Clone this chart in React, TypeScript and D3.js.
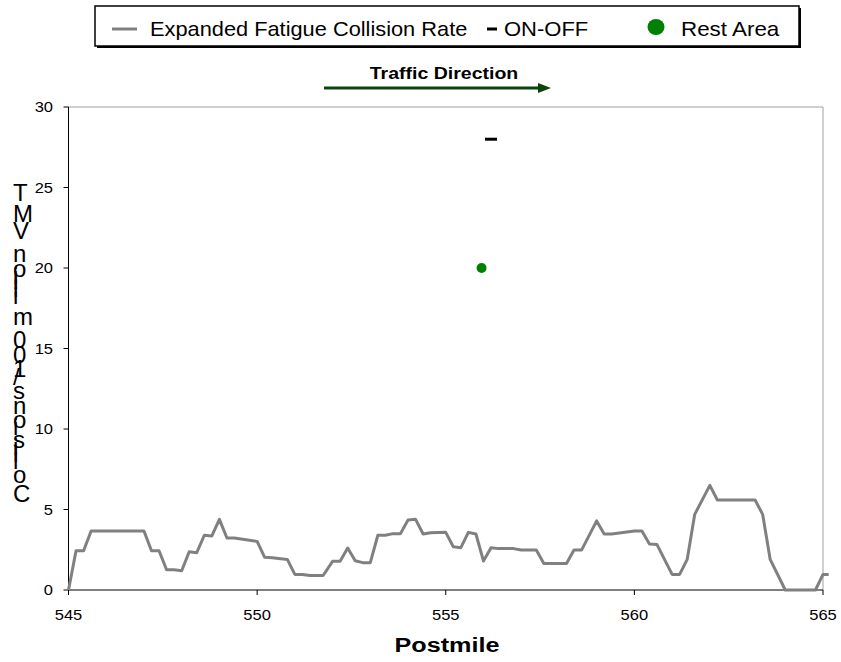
import React from "react";
import * as d3 from "d3";

const postmiles = [545, 545.2, 545.4, 545.6, 547.0, 547.2, 547.4, 547.6, 547.8, 548.0, 548.2, 548.4, 548.6, 548.8, 549.0, 549.2, 549.4, 550.0, 550.2, 550.4, 550.8, 551.0, 551.2, 551.4, 551.75, 552.0, 552.2, 552.4, 552.6, 552.8, 553.0, 553.2, 553.4, 553.6, 553.8, 554.0, 554.2, 554.4, 554.6, 555.0, 555.2, 555.4, 555.6, 555.8, 556.0, 556.2, 556.4, 556.8, 557.0, 557.4, 557.6, 558.2, 558.4, 558.6, 559.0, 559.2, 559.4, 560.0, 560.2, 560.4, 560.6, 561.0, 561.2, 561.4, 561.6, 562.0, 562.2, 563.2, 563.4, 563.6, 564.0, 564.8, 565.0, 565.15];
const rates = [0, 2.44, 2.44, 3.66, 3.66, 2.44, 2.44, 1.26, 1.26, 1.2, 2.38, 2.32, 3.4, 3.36, 4.39, 3.23, 3.23, 3.02, 2.03, 2.0, 1.9, 0.97, 0.96, 0.9, 0.9, 1.78, 1.78, 2.61, 1.82, 1.7, 1.7, 3.4, 3.4, 3.5, 3.5, 4.35, 4.39, 3.48, 3.56, 3.58, 2.69, 2.63, 3.58, 3.48, 1.8, 2.63, 2.57, 2.57, 2.48, 2.48, 1.64, 1.64, 2.48, 2.48, 4.29, 3.48, 3.48, 3.66, 3.66, 2.86, 2.82, 0.97, 0.97, 1.9, 4.7, 6.5, 5.59, 5.59, 4.7, 1.9, 0, 0, 0.97, 0.97];

const onOffPostmiles = [556.2];
const onOffValues = [28];
const restAreaPostmiles = [555.95];
const restAreaValues = [20];

const xTicks = [545, 550, 555, 560, 565];
const yTicks = [0, 5, 10, 15, 20, 25, 30];

const seriesNames = ["Expanded Fatigue Collision Rate", "ON-OFF", "Rest Area"];
const yTitle = "Collisions/100 million VMT";
const xTitle = "Postmile";
const directionLabel = "Traffic Direction";

const FONT = "'Liberation Sans', Arial, Helvetica, sans-serif";

function SText({ x, y, sx = 1, size, anchor = "start", bold = false, children }: any) {
  return (
    <g transform={`translate(${x},${y}) scale(${sx},1)`}>
      <text
        x={0}
        y={0}
        fontFamily={FONT}
        fontSize={size}
        fontWeight={bold ? "bold" : "normal"}
        textAnchor={anchor}
        fill="#000"
      >
        {children}
      </text>
    </g>
  );
}

export default function App() {
  const W = 841;
  const H = 662;
  const x = d3.scaleLinear().domain([545, 565]).range([68.5, 823]);
  const y = d3.scaleLinear().domain([0, 30]).range([590, 107]);

  const line = d3
    .line<number>()
    .x((_, i) => x(postmiles[i]))
    .y((d) => y(d));

  const x0 = x(545);
  const x1 = x(565);
  const y0 = y(0);
  const y1 = y(30);

  return (
    <svg
      width={W}
      height={H}
      viewBox={`0 0 ${W} ${H}`}
      style={{ position: "absolute", left: 0, top: 0, background: "#fff" }}
    >
      <rect x={0} y={0} width={W} height={H} fill="#fff" />

      {/* Legend */}
      <rect x={97} y={8} width={704} height={40} fill="#000" />
      <rect x={95} y={6} width={704} height={40} fill="#fff" stroke="#000" strokeWidth={1.5} />
      <line x1={112} x2={137} y1={29} y2={29} stroke="#808080" strokeWidth={3} />
      <SText x={150} y={36} sx={1.09} size={20}>{seriesNames[0]}</SText>
      <line x1={487} x2={497} y1={29} y2={29} stroke="#000" strokeWidth={3} />
      <SText x={504} y={36} sx={1.1} size={20}>{seriesNames[1]}</SText>
      <ellipse cx={656} cy={27} rx={8.5} ry={8} fill="#008000" />
      <SText x={681} y={36} sx={1.12} size={20}>{seriesNames[2]}</SText>

      {/* Traffic direction */}
      <SText x={444} y={79} sx={1.22} size={16} anchor="middle" bold>
        {directionLabel}
      </SText>
      <line x1={324} x2={540} y1={88} y2={88} stroke="#0b450b" strokeWidth={3} />
      <path d="M 538 83 L 551 88 L 538 93 Z" fill="#0b450b" />

      {/* Plot frame (top/right gray) */}
      <line x1={x0} x2={x1} y1={y1} y2={y1} stroke="#a0a0a0" strokeWidth={1} />
      <line x1={x1} x2={x1} y1={y1} y2={y0} stroke="#a0a0a0" strokeWidth={1} />

      {/* Y axis */}
      <line x1={x0} x2={x0} y1={y1} y2={y0} stroke="#000" strokeWidth={1} />
      {yTicks.map((t) => (
        <g key={"y" + t}>
          <line x1={x0 - 5} x2={x0} y1={y(t)} y2={y(t)} stroke="#000" strokeWidth={1} />
          <SText x={53} y={y(t) + 5} sx={1.18} size={14} anchor="end">
            {t}
          </SText>
        </g>
      ))}

      {/* X axis */}
      <line x1={x0} x2={x1} y1={y0} y2={y0} stroke="#000" strokeWidth={1} />
      {xTicks.map((t) => (
        <g key={"x" + t}>
          <line x1={x(t)} x2={x(t)} y1={y0} y2={y0 + 5} stroke="#000" strokeWidth={1} />
          <SText x={x(t)} y={620} sx={1.18} size={14} anchor="middle">
            {t}
          </SText>
        </g>
      ))}

      {/* Series line */}
      <path d={line(rates) || ""} fill="none" stroke="#808080" strokeWidth={3} strokeLinejoin="round" />

      {/* ON-OFF markers */}
      {onOffPostmiles.map((p, i) => (
        <line
          key={"oo" + i}
          x1={x(p) - 6}
          x2={x(p) + 6}
          y1={y(onOffValues[i])}
          y2={y(onOffValues[i])}
          stroke="#000"
          strokeWidth={3}
        />
      ))}

      {/* Rest areas */}
      {restAreaPostmiles.map((p, i) => (
        <circle key={"ra" + i} cx={x(p)} cy={y(restAreaValues[i])} r={5} fill="#008000" />
      ))}

      {/* Axis titles */}
      <SText x={447} y={652} sx={1.2} size={21} anchor="middle" bold>
        {xTitle}
      </SText>
      <text
        transform="translate(13,502) rotate(-90)"
        rotate="90"
        textLength={316}
        lengthAdjust="spacing"
        fontFamily={FONT}
        fontSize={24}
        fill="#000"
      >
        {yTitle}
      </text>
    </svg>
  );
}
